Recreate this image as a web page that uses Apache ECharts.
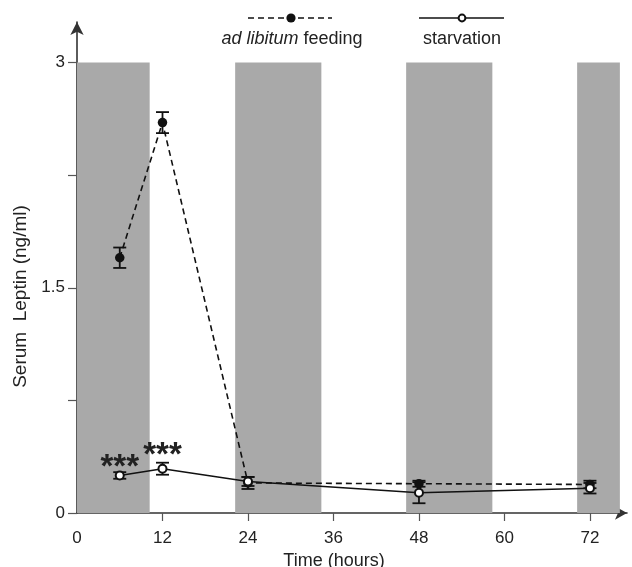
<!DOCTYPE html>
<html><head><meta charset="utf-8">
<script src="https://cdn.jsdelivr.net/npm/echarts@6/dist/echarts.min.js"></script>
<style>html,body{margin:0;padding:0;background:#fff}#c{width:632px;height:567px}</style>
</head><body><div id="c"></div>
<script>
// ---- data ----
const times = [6, 12, 24, 48, 72];
const adLib = [1.70, 2.60, 0.20, 0.195, 0.19];
const adLibErr = [0.068, 0.07, 0.04, 0.02, 0.025];
const starv = [0.25, 0.295, 0.21, 0.135, 0.165];
const starvErr = [0.022, 0.04, 0.03, 0.07, 0.035];
const darkStart = [0, 22.2, 46.2, 70.2];
const darkEnd = [10.2, 34.3, 58.3, 76.2];
const darkTop = 3;
const xTicks = [12, 24, 36, 48, 60, 72];
const xLabels = [0, 12, 24, 36, 48, 60, 72];
const yTicks = [0, 0.75, 1.5, 2.25, 3];
const yLabels = [0, 1.5, 3];
const signifIdx = [0, 1];
const signifText = '***';

const FONT = 'Liberation Sans, Arial, sans-serif';
const chart = echarts.init(document.getElementById('c'));

function errSeries(name, vals, errs, z) {
  return {
    name: name, type: 'custom', z: z,
    data: times.map((t, i) => [t, vals[i] - errs[i], vals[i] + errs[i]]),
    renderItem: function (params, api) {
      const lo = api.coord([api.value(0), api.value(1)]);
      const hi = api.coord([api.value(0), api.value(2)]);
      const w = 6.5;
      const st = { stroke: '#111', lineWidth: 1.8 };
      return { type: 'group', children: [
        { type: 'line', shape: { x1: lo[0], y1: lo[1], x2: hi[0], y2: hi[1] }, style: st },
        { type: 'line', shape: { x1: lo[0] - w, y1: lo[1], x2: lo[0] + w, y2: lo[1] }, style: st },
        { type: 'line', shape: { x1: hi[0] - w, y1: hi[1], x2: hi[0] + w, y2: hi[1] }, style: st }
      ]};
    }
  };
}

const asteriskOffsets = [[0, -8], [0, -13]];

chart.setOption({
  animation: false,
  backgroundColor: '#fff',
  grid: { left: 77, right: 5, top: 22, bottom: 54, containLabel: false, outerBoundsMode: 'none' },
  xAxis: {
    type: 'value', min: 0, max: 77.2,
    name: 'Time (hours)', nameLocation: 'middle', nameGap: 32,
    nameTextStyle: { fontFamily: FONT, fontSize: 18, color: '#222', padding: [0, 36, 0, 0] },
    axisLine: { show: true, lineStyle: { color: '#333', width: 1.6 }, symbol: ['none', 'arrow'], symbolSize: [10, 12] },
    axisTick: { show: true, length: 8, lineStyle: { color: '#555', width: 1.2 }, customValues: xTicks },
    axisLabel: { fontFamily: FONT, fontSize: 17, color: '#222', margin: 17, customValues: xLabels },
    splitLine: { show: false }
  },
  yAxis: {
    type: 'value', min: 0, max: 3.27,
    name: 'Serum  Leptin (ng/ml)', nameLocation: 'middle', nameGap: 46, nameRotate: 90,
    nameTextStyle: { fontFamily: FONT, fontSize: 19, color: '#222', padding: [0, 58, 0, 0] },
    axisLine: { show: true, lineStyle: { color: '#333', width: 1.6 }, symbol: ['none', 'arrow'], symbolSize: [10, 13] },
    axisTick: { show: true, length: 9, lineStyle: { color: '#555', width: 1.2 }, customValues: yTicks },
    axisLabel: { fontFamily: FONT, fontSize: 17, color: '#222', margin: 12, customValues: yLabels },
    splitLine: { show: false }
  },
  graphic: [
    { type: 'line', shape: { x1: 248, y1: 18, x2: 332, y2: 18 }, style: { stroke: '#111', lineWidth: 1.6, lineDash: [6, 4] } },
    { type: 'circle', shape: { cx: 291, cy: 18, r: 4.6 }, style: { fill: '#111' } },
    { type: 'text', x: 292, y: 39, style: { text: '{i|ad libitum} feeding', fontFamily: FONT, fontSize: 18, fill: '#222', align: 'center', verticalAlign: 'middle', rich: { i: { fontStyle: 'italic', fontFamily: FONT, fontSize: 18, fill: '#222' } } } },
    { type: 'line', shape: { x1: 419, y1: 18, x2: 504, y2: 18 }, style: { stroke: '#111', lineWidth: 1.6 } },
    { type: 'circle', shape: { cx: 462, cy: 18, r: 3.4 }, style: { fill: '#fff', stroke: '#111', lineWidth: 2 } },
    { type: 'text', x: 462, y: 39, style: { text: 'starvation', fontFamily: FONT, fontSize: 18, fill: '#222', align: 'center', verticalAlign: 'middle' } }
  ],
  series: [
    {
      name: 'dark', type: 'line', data: [], z: 0,
      markArea: {
        silent: true,
        itemStyle: { color: '#a9a9a9', opacity: 1 },
        data: darkStart.map((s, i) => [{ xAxis: s, yAxis: 0 }, { xAxis: darkEnd[i], yAxis: darkTop }])
      }
    },
    errSeries('adErr', adLib, adLibErr, 2),
    errSeries('stErr', starv, starvErr, 2),
    {
      name: 'ad libitum feeding', type: 'line', z: 3,
      data: times.map((t, i) => [t, adLib[i]]),
      symbol: 'circle', symbolSize: 9.5,
      itemStyle: { color: '#111', borderWidth: 0 },
      lineStyle: { color: '#111', width: 1.6, type: [6, 4] }
    },
    {
      name: 'starvation', type: 'line', z: 4,
      data: times.map((t, i) => [t, starv[i]]),
      symbol: 'circle', symbolSize: 8,
      itemStyle: { color: '#fff', borderColor: '#111', borderWidth: 2 },
      lineStyle: { color: '#111', width: 1.6 },
      markPoint: {
        symbol: 'circle', symbolSize: 1,
        itemStyle: { color: 'rgba(0,0,0,0)' },
        label: { show: true, position: 'inside', formatter: signifText, fontFamily: FONT, fontSize: 33, fontWeight: 'bold', color: '#222' },
        data: signifIdx.map((k, j) => ({
          coord: [times[k], starv[k]],
          label: { offset: asteriskOffsets[j] }
        }))
      }
    }
  ]
});
</script>
</body></html>
